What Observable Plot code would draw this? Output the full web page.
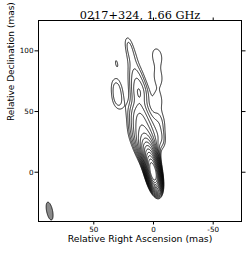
<!DOCTYPE html>
<html><head><meta charset="utf-8">
<script src="https://cdn.jsdelivr.net/npm/d3@7"></script>
<script src="https://cdn.jsdelivr.net/npm/@observablehq/plot@0.6"></script>
<style>body{margin:0;background:#fff}</style>
</head><body><div id="chart"></div>
<script>
// Gaussian model components (RA offset mas, Dec offset mas, peak mJy/beam, intrinsic FWHM mas)
const compX    = [0,   2,   4,  6,  9, 12, 12, 15,  18,  21,  -3,  -4,  -4,  -5,  -6,  31,  30,  31];
const compY    = [-1,  7,  15, 22, 34, 48, 66, 80,  95, 106,  96,  78,  60,  42,  28,  71,  59,  90];
const compAmp  = [500,150, 50, 20, 12,  8,  7, 3.6, 2.3, 2.3, 2.6, 2.3, 2.2, 2.6, 3.0, 2.6, 2.9, 2.05];
const compSize = [2,   4,   6, 10, 14, 12, 10, 10,  8,   5,  10,   9,   9,   9,   6,   8,   8,   1];
// contour levels (mJy/beam)
const levels = [2, 2.8, 4, 5.7, 8, 11.3, 16, 22.6, 32, 45.3, 64, 90.5, 128, 181, 256, 362];
// restoring beam
const beamMajor = 15, beamMinor = 5, beamPA = 12, beamX = 87, beamY = -32;
const xTicks = [50, 0, -50];
const yTicks = [0, 50, 100];
const titleText = "0217+324, 1.66 GHz";
const xLabel = "Relative Right Ascension (mas)";
const yLabel = "Relative Declination (mas)";
const xDomain = [96.3, -73.7];
const yDomain = [-40.6, 125];

function invCov(size) {
  const s = size / 2.355, a = beamMajor / 2.355, b = beamMinor / 2.355;
  const t = beamPA * Math.PI / 180;
  const ux = Math.sin(t), uy = Math.cos(t), vx = Math.cos(t), vy = -Math.sin(t);
  const sxx = a*a*ux*ux + b*b*vx*vx + s*s;
  const sxy = a*a*ux*uy + b*b*vx*vy;
  const syy = a*a*uy*uy + b*b*vy*vy + s*s;
  const det = sxx*syy - sxy*sxy;
  return [syy/det, -sxy/det, sxx/det];
}
const comps = compX.map((x, i) => ({x, y: compY[i], amp: compAmp[i], inv: invCov(compSize[i])}));
function brightness(x, y) {
  let s = 0;
  for (const c of comps) {
    const dx = x - c.x, dy = y - c.y;
    const q = c.inv[0]*dx*dx + 2*c.inv[1]*dx*dy + c.inv[2]*dy*dy;
    s += c.amp * Math.exp(-0.5 * q);
  }
  return s;
}
const beamInv = invCov(0);
function beamShape(x, y) {
  const dx = x - beamX, dy = y - beamY;
  return Math.exp(-0.5 * (beamInv[0]*dx*dx + 2*beamInv[1]*dx*dy + beamInv[2]*dy*dy));
}
// sample a function on a regular grid (map image)
const W = 340, H = 332;
function grid(f) {
  const out = new Array(W * H);
  for (let j = 0, i = 0; j < H; ++j) {
    const y = yDomain[1] + (j + 0.5) / H * (yDomain[0] - yDomain[1]);
    for (let k = 0; k < W; ++k, ++i) {
      const x = xDomain[0] + (k + 0.5) / W * (xDomain[1] - xDomain[0]);
      out[i] = f(x, y);
    }
  }
  return out;
}
const gridOpts = {width: W, height: H, x1: xDomain[0], x2: xDomain[1], y1: yDomain[1], y2: yDomain[0]};

const chart = Plot.plot({
  width: 249, height: 253,
  marginLeft: 38, marginRight: 8, marginTop: 20, marginBottom: 32,
  style: {fontFamily: "DejaVu Sans", fontSize: "7.2px", color: "black", background: "white"},
  x: {domain: xDomain},
  y: {domain: yDomain},
  marks: [
    Plot.contour(grid(brightness), {...gridOpts, thresholds: levels, stroke: "black", fill: "none", strokeWidth: 0.85}),
    Plot.contour(grid(beamShape), {...gridOpts, thresholds: [0.5], fill: "#8a8a8a", stroke: "black", strokeWidth: 0.8}),
    Plot.frame({stroke: "black", strokeWidth: 1}),
    Plot.axisX({ticks: xTicks, tickSize: 3.5, tickPadding: 1.5, label: null, tickFormat: d => String(d)}),
    Plot.axisX({anchor: "top", ticks: xTicks, tickSize: 3.5, label: null, tickFormat: () => ""}),
    Plot.axisY({ticks: yTicks, tickSize: 3.5, tickPadding: 1.5, label: null, tickFormat: d => String(d)}),
    Plot.axisY({anchor: "right", ticks: yTicks, tickSize: 3.5, label: null, tickFormat: () => ""}),
    Plot.text([titleText], {frameAnchor: "top", dy: -10, fontFamily: "DejaVu Serif", fontSize: 11.3}),
    Plot.text([xLabel], {frameAnchor: "bottom", dy: 20, fontSize: 9.3}),
    Plot.text([yLabel], {frameAnchor: "left", dx: -27, rotate: -90, fontSize: 9})
  ]
});
document.getElementById("chart").append(chart);
</script>
</body></html>
